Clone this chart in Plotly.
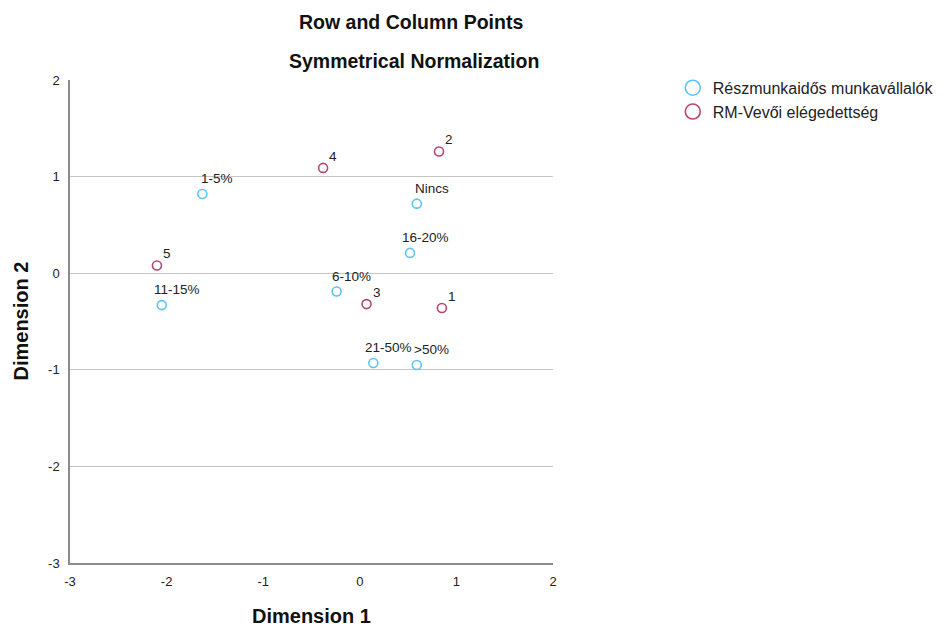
import plotly.graph_objects as go

# Data
row_labels = ["1-5%", "Nincs", "16-20%", "6-10%", "11-15%", "21-50%", ">50%"]
row_x = [-1.63, 0.59, 0.52, -0.24, -2.05, 0.14, 0.59]
row_y = [0.82, 0.72, 0.21, -0.19, -0.33, -0.93, -0.95]

col_labels = ["4", "2", "5", "3", "1"]
col_x = [-0.38, 0.82, -2.10, 0.07, 0.85]
col_y = [1.09, 1.26, 0.08, -0.32, -0.36]

series_names = ["Részmunkaidős munkavállalók", "RM-Vevői elégedettség"]
x_ticks = [-3, -2, -1, 0, 1, 2]
y_ticks = [-3, -2, -1, 0, 1, 2]
tick_text = ["-3", "-2", "-1", "0", "1", "2"]

BLUE = "#5ec4f5"
RED = "#b5466c"
FONT = "Liberation Sans, Arial, sans-serif"

fig = go.Figure()
fig.add_trace(go.Scatter(
    x=row_x, y=row_y, mode="markers", name=series_names[0], showlegend=False,
    marker=dict(symbol="circle-open", size=9, color=BLUE, line=dict(width=1.6, color=BLUE)),
))
fig.add_trace(go.Scatter(
    x=col_x, y=col_y, mode="markers", name=series_names[1], showlegend=False,
    marker=dict(symbol="circle-open", size=9, color=RED, line=dict(width=1.6, color=RED)),
))
# legend-only entries with larger symbols
for nm, c in zip(series_names, [BLUE, RED]):
    fig.add_trace(go.Scatter(
        x=[None], y=[None], mode="markers", name=nm,
        marker=dict(symbol="circle-open", size=15, color=c, line=dict(width=1.6, color=c)),
    ))

annotations = []
for lx, ly, lt in zip(row_x, row_y, row_labels):
    annotations.append(dict(x=lx, y=ly, text=lt, showarrow=False, xref="x", yref="y",
                            xanchor="center", yanchor="bottom", xshift=15, yshift=6,
                            font=dict(family=FONT, size=13.5, color="#222")))
for lx, ly, lt in zip(col_x, col_y, col_labels):
    annotations.append(dict(x=lx, y=ly, text=lt, showarrow=False, xref="x", yref="y",
                            xanchor="left", yanchor="bottom", xshift=4, yshift=2,
                            font=dict(family=FONT, size=13.5, color="#222")))

annotations += [
    dict(text="<b>Row and Column Points</b>", xref="paper", yref="paper", x=0.706, y=1.0,
         yshift=58, showarrow=False, xanchor="center", yanchor="middle",
         font=dict(family=FONT, size=19.5, color="#111")),
    dict(text="<b>Symmetrical Normalization</b>", xref="paper", yref="paper", x=0.712, y=1.0,
         yshift=19, showarrow=False, xanchor="center", yanchor="middle",
         font=dict(family=FONT, size=19.5, color="#111")),
    dict(text="<b>Dimension 1</b>", xref="paper", yref="paper", x=0.5, y=0.0,
         yshift=-53, showarrow=False, xanchor="center", yanchor="middle",
         font=dict(family=FONT, size=20, color="#111")),
    dict(text="<b>Dimension 2</b>", xref="paper", yref="paper", x=0.0, y=0.5,
         xshift=-50, showarrow=False, xanchor="center", yanchor="middle",
         textangle=-90, font=dict(family=FONT, size=20, color="#111")),
]

fig.update_layout(
    width=947, height=628,
    margin=dict(l=70, r=394, t=80, b=65, autoexpand=False),
    paper_bgcolor="white", plot_bgcolor="white",
    font=dict(family=FONT, size=13, color="#222"),
    showlegend=True,
    legend=dict(x=1.248, y=1.019, xanchor="left", yanchor="top",
                font=dict(family=FONT, size=16, color="#222"),
                bgcolor="rgba(0,0,0,0)", tracegroupgap=0),
    annotations=annotations,
)
fig.update_xaxes(range=[-3, 2], tickvals=x_ticks, ticktext=tick_text, showgrid=False,
                 zeroline=False, showline=True, linecolor="#8c8c8c", linewidth=1.5,
                 ticks="", ticklabelstandoff=6,
                 tickfont=dict(family=FONT, size=13, color="#222"))
fig.update_yaxes(range=[-3, 2], tickvals=y_ticks, ticktext=tick_text, showgrid=True,
                 gridcolor="#c6c6c6", gridwidth=1.2, zeroline=False, showline=True,
                 linecolor="#8c8c8c", linewidth=1.5, ticks="", ticklabelstandoff=6,
                 tickfont=dict(family=FONT, size=13, color="#222"))

fig.write_html("out.html")
